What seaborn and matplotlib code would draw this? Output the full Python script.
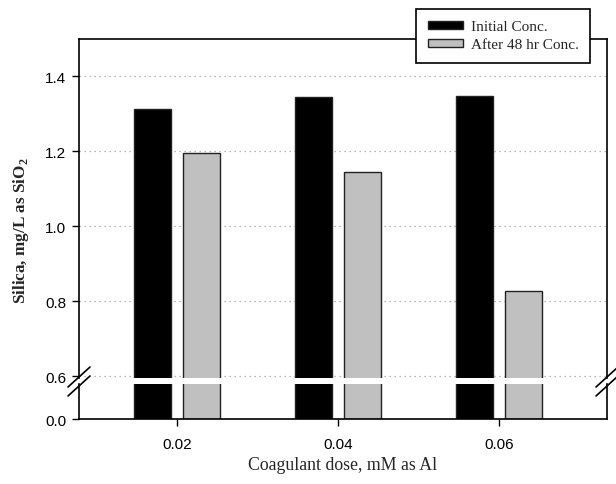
import matplotlib
matplotlib.use("Agg")
import matplotlib.pyplot as plt
from matplotlib.patches import Patch
from matplotlib.lines import Line2D
import seaborn as sns
import pandas as pd

doses = ["0.02", "0.04", "0.06"]
initial_conc = [1.313, 1.344, 1.348]
after_48hr_conc = [1.195, 1.145, 0.827]
series_names = ["Initial Conc.", "After 48 hr Conc."]
top_ticks = [0.6, 0.8, 1.0, 1.2, 1.4]
bottom_ticks = [0.0]

df = pd.DataFrame({
    "dose": doses * 2,
    "series": [series_names[0]] * 3 + [series_names[1]] * 3,
    "value": initial_conc + after_48hr_conc,
})
palette = {series_names[0]: "#000000", series_names[1]: "#c0c0c0"}

sns.set_style("white")
plt.rcParams["font.family"] = ["Liberation Sans", "DejaVu Sans"]

W, H = 616, 485
fig = plt.figure(figsize=(W / 100, H / 100), dpi=100)
L, R = 79 / W, 607 / W
ax_top = fig.add_axes([L, 1 - 379 / H, R - L, (379 - 40) / H])
ax_bot = fig.add_axes([L, 1 - 420 / H, R - L, (420 - 385) / H])

for ax in (ax_top, ax_bot):
    sns.barplot(data=df, x="dose", y="value", hue="series", hue_order=series_names,
                order=doses, palette=palette, width=0.6, gap=0.23,
                edgecolor="#222222", linewidth=1.0, legend=False, ax=ax)
    ax.set_xlim(-0.609, 2.671)
    ax.set_xlabel("")
    ax.set_ylabel("")
    for s in ax.spines.values():
        s.set_color("black")
        s.set_linewidth(1.2)
    ax.tick_params(axis="y", which="both", direction="out", length=5, width=1,
                   left=True, right=False, labelsize=11, colors="black", pad=4)

ax_top.set_ylim(0.5955, 1.5)
ax_top.set_yticks(top_ticks)
ax_top.set_yticklabels([f"{t:.1f}" for t in top_ticks])
ax_top.spines["bottom"].set_visible(False)
ax_top.tick_params(axis="x", bottom=False, labelbottom=False)
ax_top.yaxis.grid(True, linestyle=(0, (1, 3)), color="#a0a0a0", linewidth=0.9)
ax_top.set_axisbelow(True)

ax_bot.set_ylim(0, 0.1)
ax_bot.set_yticks(bottom_ticks)
ax_bot.set_yticklabels([f"{t:.1f}" for t in bottom_ticks])
ax_bot.spines["top"].set_visible(False)
ax_bot.set_xticks(range(len(doses)))
ax_bot.set_xticklabels(doses)
ax_bot.tick_params(axis="x", direction="out", length=5, width=1, bottom=True,
                   labelsize=11, colors="black", pad=8)

# break marks
def brk(x0):
    for dy in (0, 9):
        fig.add_artist(Line2D([(x0 - 11) / W, (x0 + 11) / W],
                              [1 - (388 + dy) / H, 1 - (368 + dy) / H],
                              color="black", linewidth=1.2))
brk(79)
brk(607)

fig.text(21 / W, 1 - 231 / H, "Silica, mg/L as SiO$_\\mathregular{2}$", rotation=90,
         ha="center", va="center", fontsize=12.3, fontweight="bold",
         family=["Liberation Serif", "DejaVu Serif"])
fig.text(343 / W, 1 - 466 / H, "Coagulant dose, mM as Al", ha="center", va="center",
         fontsize=12.8, family=["Liberation Serif", "DejaVu Serif"])

handles = [Patch(facecolor=palette[n], edgecolor="#222222", linewidth=1.0) for n in series_names]
leg = fig.legend(handles, series_names, loc="upper right",
                 bbox_to_anchor=(590 / W, 1 - 10 / H), borderaxespad=0,
                 frameon=True, fancybox=False,
                 framealpha=1, edgecolor="black", handlelength=2.3, handleheight=0.46,
                 handletextpad=0.5, borderpad=0.75, labelspacing=0.32,
                 prop={"family": ["Liberation Serif", "DejaVu Serif"], "size": 11})
leg.get_frame().set_linewidth(1.2)

fig.savefig("out.png", dpi=100, facecolor="white")
